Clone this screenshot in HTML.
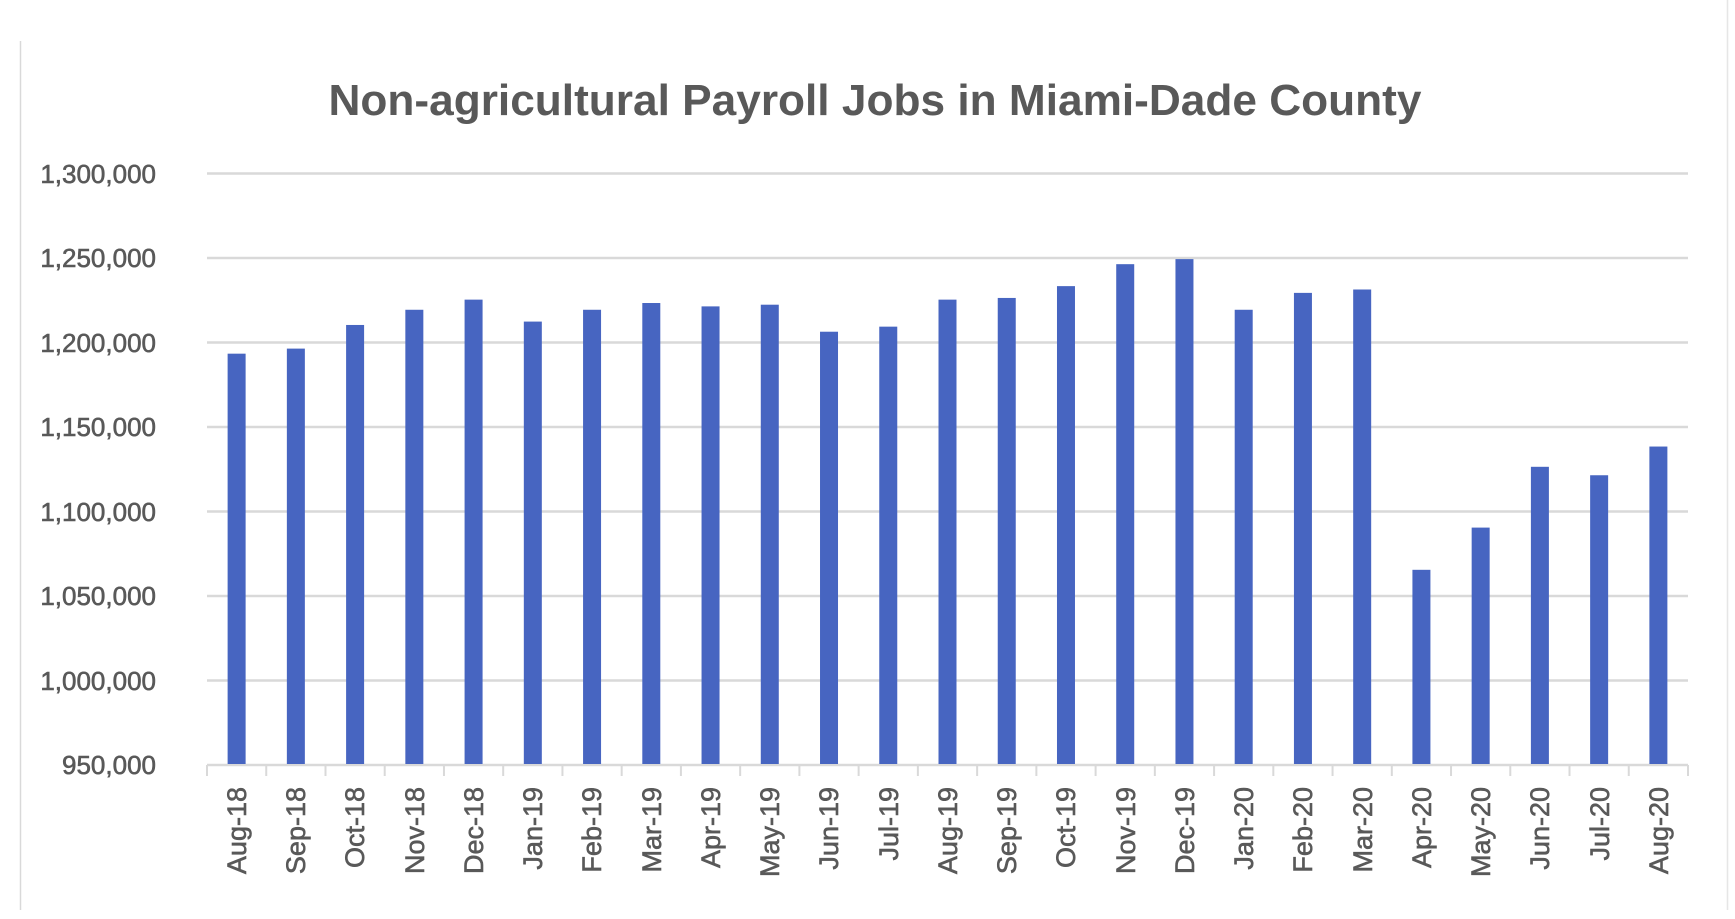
<!DOCTYPE html>
<html><head><meta charset="utf-8"><style>
html,body{margin:0;padding:0;background:#fff;}
svg{display:block;}
text{font-family:"Liberation Sans",sans-serif;fill:#595959;}
.lb{stroke:#595959;stroke-width:0.6;}
</style></head><body>
<svg width="1735" height="919" viewBox="0 0 1735 919">
<line x1="20.5" y1="41" x2="20.5" y2="910" stroke="#d9d9d9" stroke-width="1.5"/>
<line x1="1727.5" y1="0" x2="1727.5" y2="910" stroke="#e6e6e6" stroke-width="1.5"/>
<text x="875" y="115" text-anchor="middle" font-size="44" font-weight="bold" textLength="1093" lengthAdjust="spacingAndGlyphs">Non-agricultural Payroll Jobs in Miami-Dade County</text>
<g stroke="#d9d9d9" stroke-width="2.5">
<line x1="207" x2="1688" y1="173.5" y2="173.5"/>
<line x1="207" x2="1688" y1="258" y2="258"/>
<line x1="207" x2="1688" y1="342.5" y2="342.5"/>
<line x1="207" x2="1688" y1="427" y2="427"/>
<line x1="207" x2="1688" y1="511.5" y2="511.5"/>
<line x1="207" x2="1688" y1="596" y2="596"/>
<line x1="207" x2="1688" y1="680.5" y2="680.5"/>
<line x1="207" x2="1688" y1="765" y2="765"/>
</g>
<g font-size="26" text-anchor="end" class="lb">
<text x="156" y="183">1,300,000</text>
<text x="156" y="267">1,250,000</text>
<text x="156" y="352">1,200,000</text>
<text x="156" y="436">1,150,000</text>
<text x="156" y="521">1,100,000</text>
<text x="156" y="605">1,050,000</text>
<text x="156" y="690">1,000,000</text>
<text x="156" y="774">950,000</text>
</g>
<g id="ticks" stroke="#d9d9d9" stroke-width="2"></g>
<g id="bars" fill="#4765c1"></g>
<g font-size="27" text-anchor="end" class="lb">
<text transform="translate(246,787) rotate(-90)">Aug-18</text>
<text transform="translate(305,787) rotate(-90)">Sep-18</text>
<text transform="translate(364,787) rotate(-90)">Oct-18</text>
<text transform="translate(424,787) rotate(-90)">Nov-18</text>
<text transform="translate(483,787) rotate(-90)">Dec-18</text>
<text transform="translate(542,787) rotate(-90)">Jan-19</text>
<text transform="translate(601,787) rotate(-90)">Feb-19</text>
<text transform="translate(661,787) rotate(-90)">Mar-19</text>
<text transform="translate(720,787) rotate(-90)">Apr-19</text>
<text transform="translate(779,787) rotate(-90)">May-19</text>
<text transform="translate(838,787) rotate(-90)">Jun-19</text>
<text transform="translate(898,787) rotate(-90)">Jul-19</text>
<text transform="translate(957,787) rotate(-90)">Aug-19</text>
<text transform="translate(1016,787) rotate(-90)">Sep-19</text>
<text transform="translate(1075,787) rotate(-90)">Oct-19</text>
<text transform="translate(1135,787) rotate(-90)">Nov-19</text>
<text transform="translate(1194,787) rotate(-90)">Dec-19</text>
<text transform="translate(1253,787) rotate(-90)">Jan-20</text>
<text transform="translate(1312,787) rotate(-90)">Feb-20</text>
<text transform="translate(1372,787) rotate(-90)">Mar-20</text>
<text transform="translate(1431,787) rotate(-90)">Apr-20</text>
<text transform="translate(1490,787) rotate(-90)">May-20</text>
<text transform="translate(1549,787) rotate(-90)">Jun-20</text>
<text transform="translate(1609,787) rotate(-90)">Jul-20</text>
<text transform="translate(1668,787) rotate(-90)">Aug-20</text>
</g>
</svg>
<script>
var v=[1193,1196,1210,1219,1225,1212,1219,1223,1221,1222,1206,1209,1225,1226,1233,1246,1249,1219,1229,1231,1065,1090,1126,1121,1138];
var ns="http://www.w3.org/2000/svg",b=document.getElementById("bars"),t=document.getElementById("ticks");
var L=207,W=(1688-207)/25;
for(var i=0;i<25;i++){var cx=L+W*(i+0.5),y=764-(v[i]-950)*1.6886;
var r=document.createElementNS(ns,"rect");r.setAttribute("x",cx-9);r.setAttribute("width",18);r.setAttribute("y",y);r.setAttribute("height",764-y);b.appendChild(r);}
for(var i=0;i<=25;i++){var x=L+W*i;var l=document.createElementNS(ns,"line");l.setAttribute("x1",x);l.setAttribute("x2",x);l.setAttribute("y1",765);l.setAttribute("y2",776);t.appendChild(l);}
</script>
</body></html>
